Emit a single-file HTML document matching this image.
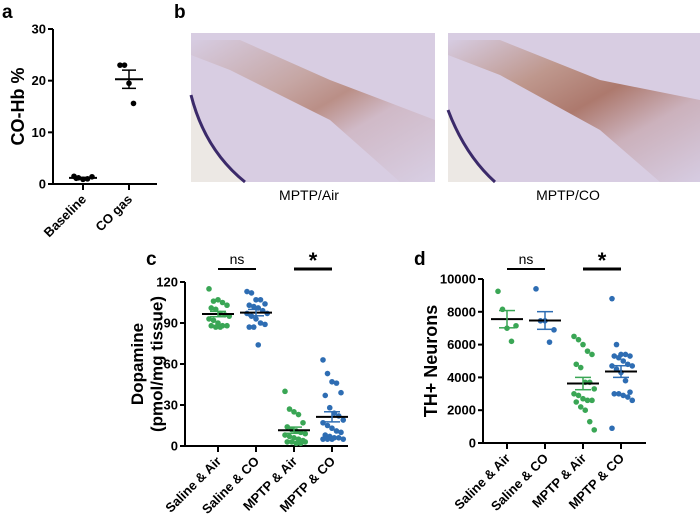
<!DOCTYPE html>
<html><head><meta charset="utf-8"><style>
body{margin:0;background:#fff;width:700px;height:519px;overflow:hidden;font-family:"Liberation Sans",Arial,sans-serif}
svg text{font-family:"Liberation Sans",Arial,sans-serif}
</style></head><body>
<svg id="fig" width="700" height="519" viewBox="0 0 700 519">
<defs>
<linearGradient id="band1" x1="0" y1="0" x2="1" y2="1">
<stop offset="0" stop-color="#d6cce2"/><stop offset="0.35" stop-color="#c09a90"/><stop offset="0.5" stop-color="#b07a68"/><stop offset="0.65" stop-color="#cdb3be"/><stop offset="1" stop-color="#d8cfe4"/>
</linearGradient>
<linearGradient id="band2" x1="0" y1="0" x2="1" y2="1">
<stop offset="0" stop-color="#d6cce2"/><stop offset="0.3" stop-color="#b88a78"/><stop offset="0.5" stop-color="#a26450"/><stop offset="0.7" stop-color="#c8aab2"/><stop offset="1" stop-color="#d6cce2"/>
</linearGradient>
</defs>
<text x="2" y="18" font-size="19" font-weight="bold">a</text>
<text x="174" y="18" font-size="19" font-weight="bold">b</text>
<text x="146" y="265" font-size="19" font-weight="bold">c</text>
<text x="414" y="265" font-size="19" font-weight="bold">d</text>
<g>
<rect x="191" y="33" width="244" height="149" fill="#d8cde2"/>
<polygon points="191,40 240,40 330,80 435,120 435,182 400,182 330,120 230,70 191,55" fill="url(#band1)" opacity="0.75"/>
<path d="M191,95 Q205,150 245,182 L191,182 Z" fill="#ece8e4"/>
<path d="M191,95 Q205,150 245,182" stroke="#3b2a6a" stroke-width="3" fill="none"/>
</g>
<g>
<rect x="448" y="33" width="252" height="149" fill="#d8cde2"/>
<polygon points="448,40 500,40 600,80 700,100 700,182 660,182 600,130 500,75 448,55" fill="url(#band2)" opacity="0.8"/>
<path d="M448,110 Q465,155 495,182 L448,182 Z" fill="#ece8e4"/>
<path d="M448,110 Q465,155 495,182" stroke="#3b2a6a" stroke-width="3" fill="none"/>
</g>
<text x="309" y="200" font-size="14" text-anchor="middle">MPTP/Air</text>
<text x="568" y="200" font-size="14" text-anchor="middle">MPTP/CO</text>
</svg>
<script>
// Panel a data
const aCategories = ["Baseline", "CO gas"];
const aBaseline = [1.5, 1.2, 0.9, 1.0, 1.4, 1.1];
const aCOgas = [23.0, 23.0, 19.5, 15.6];
const aTicks = [0, 10, 20, 30];
// Panel c data
const cCategories = ["Saline & Air", "Saline & CO", "MPTP & Air", "MPTP & CO"];
const cSalineAir = [115,106,107,105,103,101,100,97,96,95,93,92,90,88,88,88,87,87];
const cSalineCO = [113,112,107,107,104,103,102,101,99,97,97,95,93,90,89,87,87,74];
const cMptpAir = [40,27,25,23,17,14,12,11,10,9,8,7,6,5,4,3,3,2,2,3];
const cMptpCO = [63,53,47,46,39,37,28,24,22,19,17,15,13,11,10,8,7,6,6,5,5,5,5];
const cTicks = [0, 30, 60, 90, 120];
// Panel d data
const dCategories = ["Saline & Air", "Saline & CO", "MPTP & Air", "MPTP & CO"];
const dSalineAir = [9250, 8150, 7000, 6200, 7150];
const dSalineCO = [9400, 7450, 7450, 6150, 6900];
const dMptpAir = [6500,6300,6000,5600,5400,4800,4600,3700,3700,3300,3000,2900,2700,2600,2600,2500,2200,2000,1300,800];
const dMptpCO = [8800,6000,5400,5400,5300,5300,5200,5000,4800,4700,4700,4500,4300,3800,3100,3000,3000,2900,2800,2600,900];
const dTicks = [0, 2000, 4000, 6000, 8000, 10000];
const sigLabels = ["ns", "*"];

const NS = "http://www.w3.org/2000/svg";
const svg = document.getElementById("fig");
function mk(tag, attrs, parent) {
  const e = document.createElementNS(NS, tag);
  for (const k in attrs) e.setAttribute(k, attrs[k]);
  (parent || svg).appendChild(e);
  return e;
}
function stats(v) {
  const n = v.length, m = v.reduce((a, b) => a + b, 0) / n;
  const sd = Math.sqrt(v.reduce((a, b) => a + (b - m) * (b - m), 0) / (n - 1));
  return [m, sd / Math.sqrt(n)];
}
function panel(p) {
  const g = mk("g", {});
  
  
  const y = v => p.y0 + (v - p.vmin) / (p.vmax - p.vmin) * (p.y1 - p.y0);
  const x = i => p.xs[i];
  const yAx = mk("line", {x1: p.ax, x2: p.ax, y1: y(p.vmin), y2: y(p.vmax), stroke: "#000", "stroke-width": 2}, g);
  
  
  const xAx = mk("line", {x1: p.ax, x2: p.axEnd, y1: y(p.vmin), y2: y(p.vmin), stroke: "#000", "stroke-width": 2}, g);
  
  
  p.ticks.forEach(t => {
    mk("line", {x1: p.ax - 5, x2: p.ax, y1: y(t), y2: y(t), stroke: "#000", "stroke-width": 2}, g);
    const tx = mk("text", {x: p.ax - 7, y: y(t) + 4.5, "font-size": 13, "font-weight": "bold", "text-anchor": "end"}, g);
    tx.textContent = t;
    
    
  });
  p.cats.forEach((c, i) => {
    mk("line", {x1: x(i), x2: x(i), y1: y(p.vmin), y2: y(p.vmin) + 6, stroke: "#000", "stroke-width": 2}, g);
    const tx = mk("text", {x: x(i) + 4, y: y(p.vmin) + 16, "font-size": 13, "font-weight": "bold", "text-anchor": "end", transform: `rotate(-45 ${x(i) + 4} ${y(p.vmin) + 16})`}, g);
    tx.textContent = c;
    
    
  });
  const tt = mk("text", {x: 0, y: 0, "font-size": p.tsize, "font-weight": "bold", "text-anchor": "middle", transform: `translate(${p.tx} ${(y(p.vmin) + y(p.vmax)) / 2}) rotate(-90)`}, g);
  
  
  p.title.forEach((l, k) => { const ts = mk("tspan", {x: 0, dy: k ? p.tsize * 1.15 : 0}, tt); ts.textContent = l; });
  p.series.forEach((s, i) => {
    const col = p.colors[i];
    const w = p.spread;
    s.forEach((v, j) => {
      const off = ((j % 5) - 2) * w / 2 + ((Math.floor(j / 5) % 2) ? w / 4 : 0);
      const d = mk("circle", {cx: x(i) + off, cy: y(v), r: p.r, fill: col}, g);
      
      
    });
    const [m, se] = stats(s);
    const ml = mk("line", {x1: x(i) - p.mw, x2: x(i) + p.mw, y1: y(m), y2: y(m), stroke: "#000", "stroke-width": 2}, g);
    
    
    const ec = p.errColors[i];
    mk("line", {x1: x(i), x2: x(i), y1: y(m - se), y2: y(m + se), stroke: ec, "stroke-width": 1.5}, g);
    [m - se, m + se].forEach(e => mk("line", {x1: x(i) - p.mw / 2, x2: x(i) + p.mw / 2, y1: y(e), y2: y(e), stroke: ec, "stroke-width": 1.5}, g));
  });
  if (p.sig) {
    [[0, 1], [2, 3]].forEach((pr, k) => {
      const b = mk("line", {x1: x(pr[0]), x2: x(pr[1]), y1: p.sigY, y2: p.sigY, stroke: "#000", "stroke-width": k ? 3 : 2}, g);
      
      
      const t = mk("text", {x: (x(pr[0]) + x(pr[1])) / 2, y: p.sigY - (k ? 1 : 5), "font-size": k ? 22 : 14, "font-weight": k ? "bold" : "normal", "text-anchor": "middle"}, g);
      t.textContent = sigLabels[k];
      
      
    });
  }
}
const G = "#3aa655", B = "#2e6db3";
panel({name: "panel-a-chart", vmin: 0, vmax: 30, y0: 184, y1: 29, ax: 53, axEnd: 157, xs: [83, 129],
  cats: aCategories, ticks: aTicks, title: ["CO-Hb %"], tsize: 18, tx: 24,
  series: [aBaseline, aCOgas], colors: ["#000", "#000"], errColors: ["#000", "#000"], spread: 9, r: 2.8, mw: 14, sig: false});
panel({name: "panel-c-chart", vmin: 0, vmax: 120, y0: 446, y1: 282, ax: 185, axEnd: 348, xs: [218, 256, 294, 332],
  cats: cCategories, ticks: cTicks, title: ["Dopamine", "(pmol/mg tissue)"], tsize: 17, tx: 143,
  series: [cSalineAir, cSalineCO, cMptpAir, cMptpCO], colors: [G, B, G, B], errColors: [G, B, G, B], spread: 9, r: 2.8, mw: 16, sig: true, sigY: 269});
panel({name: "panel-d-chart", vmin: 0, vmax: 10000, y0: 443, y1: 279, ax: 483, axEnd: 646, xs: [507, 545, 583, 621],
  cats: dCategories, ticks: dTicks, title: ["TH+ Neurons"], tsize: 18, tx: 437,
  series: [dSalineAir, dSalineCO, dMptpAir, dMptpCO], colors: [G, B, G, B], errColors: [G, B, G, B], spread: 9, r: 2.8, mw: 16, sig: true, sigY: 269});
</script>
</body></html>
